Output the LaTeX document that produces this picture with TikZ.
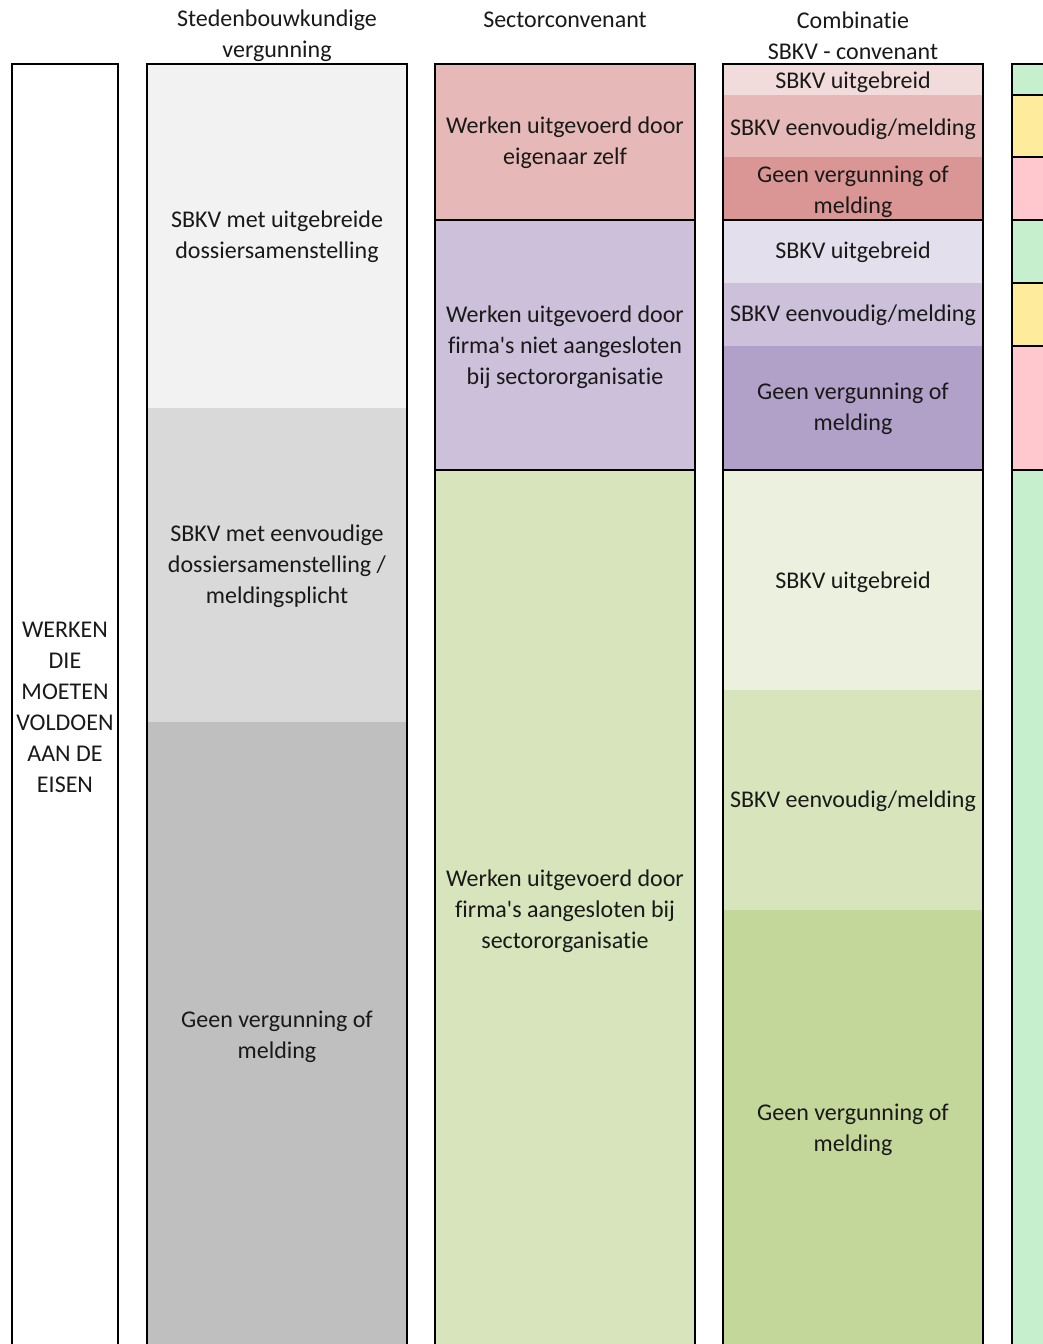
\documentclass[tikz,border=0pt]{standalone}
\usepackage{fontspec}
\setmainfont{Carlito}[Ligatures={ResetAll,NoCommon}]
\definecolor{gA}{HTML}{F2F2F2}
\definecolor{gB}{HTML}{D9D9D9}
\definecolor{gC}{HTML}{BFBFBF}
\definecolor{rA}{HTML}{F2DCDB}
\definecolor{rB}{HTML}{E6B8B7}
\definecolor{rC}{HTML}{DA9694}
\definecolor{pA}{HTML}{E4DFEC}
\definecolor{pB}{HTML}{CCC0DA}
\definecolor{pC}{HTML}{B1A0C7}
\definecolor{lA}{HTML}{EBF1DE}
\definecolor{lB}{HTML}{D8E4BC}
\definecolor{lC}{HTML}{C4D79B}
\definecolor{sGood}{HTML}{C6EFCE}
\definecolor{sMid}{HTML}{FFEB9C}
\definecolor{sBad}{HTML}{FFC7CE}
\begin{document}
\begin{tikzpicture}[x=1pt,y=-1pt,
  lbl/.style={align=center,font=\fontsize{24}{31}\selectfont,text=black!90,inner sep=0pt},
  frame/.style={line width=2pt,draw=black},
  sep/.style={line width=2pt,draw=black}]
\useasboundingbox (0,0) rectangle (1042,1344);
% column 2 fills
\fill[gA] (147,64) rectangle (407,408);
\fill[gB] (147,408) rectangle (407,722);
\fill[gC] (147,722) rectangle (407,1350);
% column 3 fills
\fill[rB] (435,64) rectangle (695,220);
\fill[pB] (435,220) rectangle (695,470);
\fill[lB] (435,470) rectangle (695,1350);
% column 4 fills
\fill[rA] (723,64) rectangle (983,95);
\fill[rB] (723,95) rectangle (983,157);
\fill[rC] (723,157) rectangle (983,220);
\fill[pA] (723,220) rectangle (983,283);
\fill[pB] (723,283) rectangle (983,346);
\fill[pC] (723,346) rectangle (983,470);
\fill[lA] (723,470) rectangle (983,690);
\fill[lB] (723,690) rectangle (983,910);
\fill[lC] (723,910) rectangle (983,1350);
% column 5 fills
\fill[sGood] (1012,64) rectangle (1050,95);
\fill[sMid] (1012,95) rectangle (1050,157);
\fill[sBad] (1012,157) rectangle (1050,220);
\fill[sGood] (1012,220) rectangle (1050,283);
\fill[sMid] (1012,283) rectangle (1050,346);
\fill[sBad] (1012,346) rectangle (1050,470);
\fill[sGood] (1012,470) rectangle (1050,1350);
% separators
\draw[sep] (435,220) -- (695,220);
\draw[sep] (435,470) -- (695,470);
\draw[sep] (723,220) -- (983,220);
\draw[sep] (723,470) -- (983,470);
\foreach \yy in {95,157,220,283,346,470} \draw[sep] (1012,\yy) -- (1050,\yy);
% frames (open at bottom)
\draw[frame] (12,1350) -- (12,64) -- (118,64) -- (118,1350);
\draw[frame] (147,1350) -- (147,64) -- (407,64) -- (407,1350);
\draw[frame] (435,1350) -- (435,64) -- (695,64) -- (695,1350);
\draw[frame] (723,1350) -- (723,64) -- (983,64) -- (983,1350);
\draw[frame] (1012,1350) -- (1012,64) -- (1050,64);
% headers
\node[lbl] (h2) at (277,35.5) {Stedenbouwkundige\\vergunning};
\node[lbl] (h3) at (565,20) {Sectorconvenant};
\node[lbl] (h4) at (853,35.5) {Combinatie\\SBKV - convenant};
% column 1
\node[lbl] (c1) at (65,707) {WERKEN\\DIE\\MOETEN\\VOLDOEN\\AAN DE\\EISEN};
% column 2
\node[lbl] (c2a) at (277,237) {SBKV met uitgebreide\\dossiersamenstelling};
\node[lbl] (c2b) at (277,566) {SBKV met eenvoudige\\dossiersamenstelling /\\meldingsplicht};
\node[lbl] (c2c) at (277,1037) {Geen vergunning of\\melding};
% column 3
\node[lbl] (c3a) at (565,143) {Werken uitgevoerd door\\eigenaar zelf};
\node[lbl] (c3b) at (565,347) {Werken uitgevoerd door\\firma\textquotesingle s niet aangesloten\\bij sectororganisatie};
\node[lbl] (c3c) at (565,911) {Werken uitgevoerd door\\firma\textquotesingle s aangesloten bij\\sectororganisatie};
% column 4
\node[lbl] (c4a) at (853,82) {SBKV uitgebreid};
\node[lbl] (c4b) at (853,129) {SBKV eenvoudig/melding};
\node[lbl] (c4c) at (853,192) {Geen vergunning of\\melding};
\node[lbl] (c4d) at (853,252) {SBKV uitgebreid};
\node[lbl] (c4e) at (853,315) {SBKV eenvoudig/melding};
\node[lbl] (c4f) at (853,409) {Geen vergunning of\\melding};
\node[lbl] (c4g) at (853,582) {SBKV uitgebreid};
\node[lbl] (c4h) at (853,801) {SBKV eenvoudig/melding};
\node[lbl] (c4i) at (853,1130) {Geen vergunning of\\melding};
\end{tikzpicture}
\end{document}
